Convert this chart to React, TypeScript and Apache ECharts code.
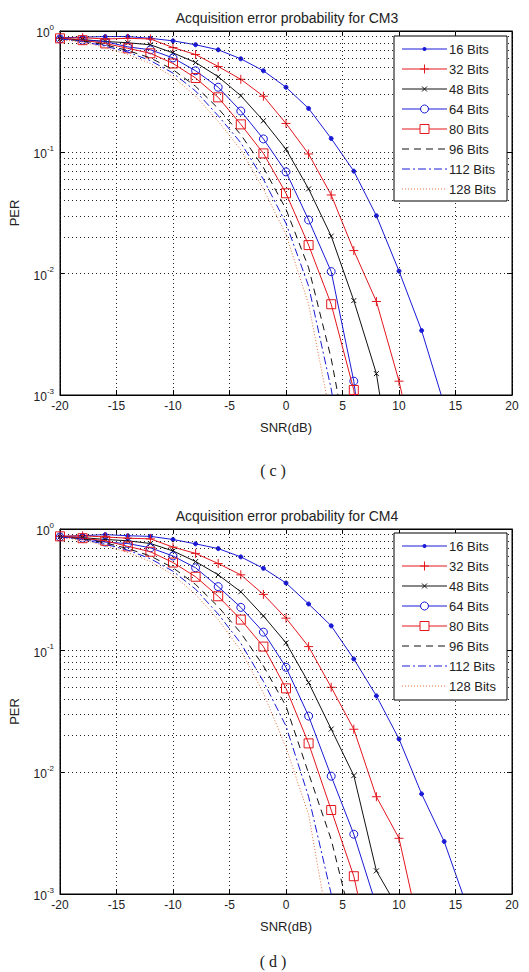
import React, { useEffect, useRef } from 'react';
import * as echarts from 'echarts';

// ---------- data ----------
const snr = [-20, -18, -16, -14, -12, -10, -8, -6, -4, -2, 0, 2, 4, 6, 8, 10, 12, 14, 16];
const seriesNames = ['16 Bits', '32 Bits', '48 Bits', '64 Bits', '80 Bits', '96 Bits', '112 Bits', '128 Bits'];
const titles = ['Acquisition error probability for CM3', 'Acquisition error probability for CM4'];
const captions = ['( c )', '( d )'];

// CM3
const cm3_16 = [0.88, 0.89, 0.9, 0.9, 0.87, 0.83, 0.77, 0.7, 0.59, 0.47, 0.344, 0.23, 0.13, 0.07, 0.03, 0.0105, 0.0034, 0.00083];
const cm3_32 = [0.87, 0.88, 0.86, 0.87, 0.86, 0.73, 0.64, 0.51, 0.4, 0.29, 0.173, 0.097, 0.0445, 0.0155, 0.0059, 0.0013, 0.0002];
const cm3_48 = [0.86, 0.85, 0.82, 0.8, 0.77, 0.66, 0.55, 0.42, 0.293, 0.182, 0.106, 0.05, 0.0204, 0.006, 0.0015, 0.0001];
const cm3_64 = [0.86, 0.84, 0.82, 0.74, 0.7, 0.6, 0.47, 0.344, 0.219, 0.129, 0.069, 0.0277, 0.0104, 0.0013, 0.00005];
const cm3_80 = [0.87, 0.84, 0.79, 0.72, 0.655, 0.54, 0.41, 0.284, 0.17, 0.098, 0.046, 0.0172, 0.0056, 0.0011, 0.00003];
const cm3_96 = [0.86, 0.83, 0.77, 0.69, 0.6, 0.48, 0.35, 0.23, 0.14, 0.075, 0.034, 0.0112, 0.002, 0.0002];
const cm3_112 = [0.86, 0.82, 0.75, 0.67, 0.57, 0.45, 0.32, 0.2, 0.12, 0.06, 0.026, 0.0079, 0.00112, 0.0001];
const cm3_128 = [0.85, 0.81, 0.73, 0.64, 0.54, 0.42, 0.29, 0.18, 0.105, 0.05, 0.021, 0.0056, 0.00063];

// CM4
const cm4_16 = [0.87, 0.88, 0.9, 0.88, 0.87, 0.82, 0.755, 0.69, 0.59, 0.475, 0.36, 0.242, 0.16, 0.0855, 0.0425, 0.0188, 0.00665, 0.0027, 0.0008];
const cm4_32 = [0.87, 0.88, 0.86, 0.84, 0.83, 0.71, 0.63, 0.52, 0.42, 0.29, 0.185, 0.108, 0.05, 0.0226, 0.0063, 0.00287, 0.00042];
const cm4_48 = [0.86, 0.85, 0.82, 0.8, 0.76, 0.66, 0.54, 0.42, 0.305, 0.193, 0.116, 0.0546, 0.0227, 0.0094, 0.00155, 0.00074];
const cm4_64 = [0.86, 0.84, 0.78, 0.76, 0.7, 0.6, 0.48, 0.336, 0.227, 0.142, 0.073, 0.029, 0.0093, 0.0031, 0.0008];
const cm4_80 = [0.87, 0.84, 0.8, 0.72, 0.65, 0.53, 0.405, 0.28, 0.18, 0.108, 0.049, 0.0173, 0.0049, 0.0014, 0.0002];
const cm4_96 = [0.86, 0.83, 0.77, 0.69, 0.6, 0.48, 0.35, 0.23, 0.14, 0.075, 0.035, 0.0098, 0.0028, 0.0005];
const cm4_112 = [0.86, 0.82, 0.75, 0.67, 0.57, 0.45, 0.32, 0.2, 0.115, 0.056, 0.024, 0.0063, 0.001, 0.0001];
const cm4_128 = [0.85, 0.81, 0.73, 0.64, 0.54, 0.42, 0.29, 0.18, 0.1, 0.045, 0.016, 0.0045, 0.0004];

const cm3 = [cm3_16, cm3_32, cm3_48, cm3_64, cm3_80, cm3_96, cm3_112, cm3_128];
const cm4 = [cm4_16, cm4_32, cm4_48, cm4_64, cm4_80, cm4_96, cm4_112, cm4_128];

// ---------- styles ----------
const BLUE = '#1a1ad6';
const RED = '#e3161c';
const BLACK = '#111111';
const ORANGE = '#e8703c';
const FONT = 'Liberation Sans, Arial, sans-serif';
const GRIDLINE = { color: '#222', type: [1, 3] as any, width: 1 };

type Mk = 'dot' | 'plus' | 'cross' | 'circle' | 'square' | 'none';
const styles: { color: string; marker: Mk; symbol: string; size: number; fill: string; dash: any }[] = [
  { color: BLUE, marker: 'dot', symbol: 'circle', size: 4, fill: BLUE, dash: 'solid' },
  { color: RED, marker: 'plus', symbol: 'path://M0,5L10,5M5,0L5,10', size: 9, fill: 'rgba(0,0,0,0)', dash: 'solid' },
  { color: BLACK, marker: 'cross', symbol: 'path://M0,0L10,10M10,0L0,10', size: 5, fill: 'rgba(0,0,0,0)', dash: 'solid' },
  { color: BLUE, marker: 'circle', symbol: 'circle', size: 8, fill: 'rgba(0,0,0,0)', dash: 'solid' },
  { color: RED, marker: 'square', symbol: 'rect', size: 9, fill: 'rgba(0,0,0,0)', dash: 'solid' },
  { color: BLACK, marker: 'none', symbol: 'none', size: 0, fill: BLACK, dash: [7, 5] },
  { color: BLUE, marker: 'none', symbol: 'none', size: 0, fill: BLUE, dash: [8, 3, 2, 3] },
  { color: ORANGE, marker: 'none', symbol: 'none', size: 0, fill: ORANGE, dash: [1, 2] },
];

const grids = [
  { left: 52, top: 31, width: 460, height: 364 },
  { left: 52, top: 529, width: 460, height: 365 },
];
const legendBoxes = [
  { x: 394, y: 36, w: 113, h: 165 },
  { x: 394, y: 533, w: 113, h: 167 },
];
const captionPos = [470, 961];

function legendGraphic(box: { x: number; y: number; w: number; h: number }) {
  const Z = 100;
  const els: any[] = [
    {
      type: 'rect',
      z: Z,
      shape: { x: box.x, y: box.y, width: box.w, height: box.h },
      style: { fill: '#fff', stroke: '#000', lineWidth: 1 },
    },
  ];
  seriesNames.forEach((name, i) => {
    const st = styles[i];
    const cy = box.y + 13 + i * 20;
    const x1 = box.x + 8;
    const x2 = box.x + 53;
    const cx = (x1 + x2) / 2;
    els.push({
      type: 'line',
      z: Z + 1,
      shape: { x1, y1: cy, x2, y2: cy },
      style: { stroke: st.color, lineWidth: 1, lineDash: st.dash === 'solid' ? null : st.dash },
    });
    const mk = { z: Z + 2 };
    if (st.marker === 'dot') {
      els.push({ type: 'circle', ...mk, shape: { cx, cy, r: 2 }, style: { fill: st.color } });
    } else if (st.marker === 'plus') {
      els.push({ type: 'line', ...mk, shape: { x1: cx - 4.5, y1: cy, x2: cx + 4.5, y2: cy }, style: { stroke: st.color, lineWidth: 1 } });
      els.push({ type: 'line', ...mk, shape: { x1: cx, y1: cy - 4.5, x2: cx, y2: cy + 4.5 }, style: { stroke: st.color, lineWidth: 1 } });
    } else if (st.marker === 'cross') {
      els.push({ type: 'line', ...mk, shape: { x1: cx - 2.5, y1: cy - 2.5, x2: cx + 2.5, y2: cy + 2.5 }, style: { stroke: st.color, lineWidth: 1 } });
      els.push({ type: 'line', ...mk, shape: { x1: cx - 2.5, y1: cy + 2.5, x2: cx + 2.5, y2: cy - 2.5 }, style: { stroke: st.color, lineWidth: 1 } });
    } else if (st.marker === 'circle') {
      els.push({ type: 'circle', ...mk, shape: { cx, cy, r: 4 }, style: { fill: '#fff', stroke: st.color, lineWidth: 1 } });
    } else if (st.marker === 'square') {
      els.push({ type: 'rect', ...mk, shape: { x: cx - 4.5, y: cy - 4.5, width: 9, height: 9 }, style: { fill: '#fff', stroke: st.color, lineWidth: 1 } });
    }
    els.push({
      type: 'text',
      z: Z + 2,
      x: x2 + 2,
      y: cy,
      style: { text: name, fontSize: 13, fill: '#222', fontFamily: FONT, align: 'left', verticalAlign: 'middle' },
    });
  });
  return els;
}

function App() {
  const ref = useRef<HTMLDivElement>(null);
  useEffect(() => {
    if (!ref.current) return;
    const chart = echarts.init(ref.current, null, { renderer: 'svg' });

    const minorVals: number[] = [];
    [0.001, 0.01, 0.1].forEach((d) => {
      for (let k = 2; k <= 9; k++) minorVals.push(+(d * k).toPrecision(3));
    });

    const xAxis: any[] = [];
    const yAxis: any[] = [];
    const series: any[] = [];
    const title: any[] = [];
    const graphic: any[] = [];

    const datasets = [cm3, cm4];
    grids.forEach((g, gi) => {
      const base = { gridIndex: gi, type: 'value', min: -20, max: 20, interval: 5 };
      const tick = { show: true, inside: true, length: 5, lineStyle: { color: '#000' } };
      const line = { show: true, onZero: false, lineStyle: { color: '#000', width: 1 } };
      xAxis.push({
        ...base,
        position: 'bottom',
        name: 'SNR(dB)',
        nameLocation: 'middle',
        nameGap: 26,
        nameTextStyle: { color: '#222', fontSize: 13, fontFamily: FONT },
        axisLine: line,
        axisTick: tick,
        axisLabel: { color: '#222', fontSize: 12, fontFamily: FONT, margin: 5 },
        splitLine: { show: true, lineStyle: GRIDLINE },
        z: 5,
      });
      xAxis.push({
        ...base,
        position: 'top',
        axisLine: line,
        axisTick: tick,
        axisLabel: { show: false },
        splitLine: { show: false },
      });
      const ybase = { gridIndex: gi, type: 'log', logBase: 10, min: 0.001, max: 1 };
      yAxis.push({
        ...ybase,
        position: 'left',
        name: 'PER',
        nameLocation: 'middle',
        nameGap: 39,
        nameRotate: 90,
        nameTextStyle: { color: '#222', fontSize: 13, fontFamily: FONT },
        axisLine: line,
        axisTick: tick,
        axisLabel: {
          margin: 6,
          formatter: (v: number) => `{b|10}{s|${Math.round(Math.log10(v))}}`,
          rich: {
            b: { fontSize: 12, color: '#222', fontFamily: FONT, lineHeight: 16, verticalAlign: 'bottom' },
            s: { fontSize: 8, color: '#222', fontFamily: FONT, lineHeight: 8, verticalAlign: 'top' },
          },
        },
        splitLine: { show: true, lineStyle: GRIDLINE },
      });
      yAxis.push({
        ...ybase,
        position: 'right',
        axisLine: line,
        axisTick: tick,
        axisLabel: { show: false },
        splitLine: { show: false },
      });

      // minor grid lines at 2..9 x decade
      series.push({
        type: 'line',
        name: '__grid' + gi,
        xAxisIndex: gi * 2,
        yAxisIndex: gi * 2,
        data: [],
        silent: true,
        z: 1,
        markLine: {
          silent: true,
          symbol: 'none',
          label: { show: false },
          animation: false,
          lineStyle: GRIDLINE,
          emphasis: { disabled: true },
          data: minorVals.map((v) => ({ yAxis: v })),
        },
      });

      datasets[gi].forEach((vals, si) => {
        const st = styles[si];
        series.push({
          type: 'line',
          name: seriesNames[si],
          xAxisIndex: gi * 2,
          yAxisIndex: gi * 2,
          data: vals.map((v, i) => [snr[i], v]),
          symbol: st.symbol,
          symbolSize: st.size,
          showSymbol: st.symbol !== 'none',
          clip: true,
          lineStyle: { color: st.color, width: 1, type: st.dash },
          itemStyle: { color: st.fill, borderColor: st.color, borderWidth: 1 },
          emphasis: { disabled: true },
          z: 3 + si,
        });
      });

      title.push({
        text: titles[gi],
        left: 282,
        top: g.top - 25,
        textAlign: 'center',
        textStyle: { fontSize: 14, fontWeight: 'normal', color: '#222', fontFamily: FONT },
      });

      graphic.push(...legendGraphic(legendBoxes[gi]));

      graphic.push({
        type: 'text',
        x: 273,
        y: captionPos[gi],
        style: {
          text: captions[gi],
          fontSize: 16,
          fill: '#222',
          fontFamily: 'Liberation Serif, serif',
          align: 'center',
          verticalAlign: 'middle',
        },
      });
    });

    chart.setOption({
      animation: false,
      backgroundColor: '#fff',
      grid: grids.map((g) => ({ ...g, show: true, borderColor: '#000', borderWidth: 1, backgroundColor: 'transparent' })),
      title,
      xAxis,
      yAxis,
      series,
      graphic,
    });
    return () => chart.dispose();
  }, []);

  return (
    <div
      ref={ref}
      style={{ position: 'absolute', left: 0, top: 0, width: 529, height: 972, background: '#fff' }}
    />
  );
}

export default App;
